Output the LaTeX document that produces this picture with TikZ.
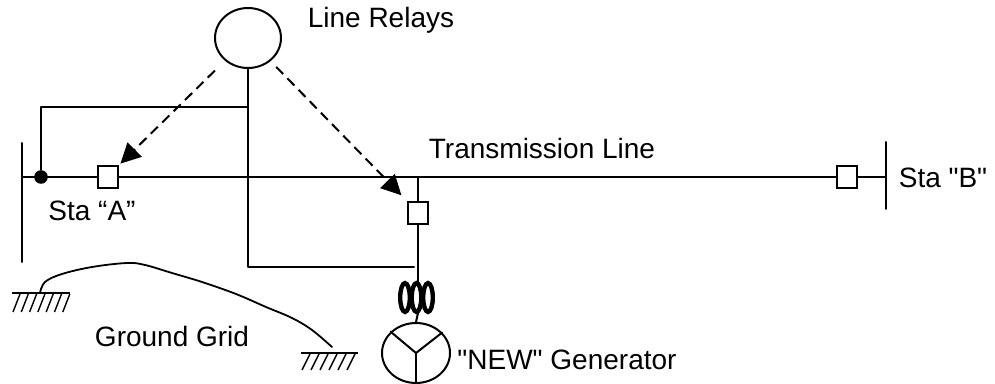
\documentclass[tikz,border=0pt]{standalone}
\usepackage{fontspec}
\setmainfont{Liberation Sans}
\usetikzlibrary{arrows.meta,shapes.geometric}
\tikzset{
  base/.style={draw=black, line width=1pt, line cap=round, line join=round},
  trip/.style={draw=black, line width=1pt, dash pattern=on 5pt off 3pt, -{Triangle[length=10pt,width=10pt]}},
  brk/.style={draw=black, line width=1pt, fill=white, rectangle, minimum width=10pt, minimum height=11pt, inner sep=0pt},
  oval/.style={draw=black, line width=1pt, ellipse, minimum width=33pt, minimum height=30pt, inner sep=0pt},
  coil/.style={draw=black, line width=2.2pt},
  hatch/.style={draw=black, line width=0.7pt},
  dot/.style={circle, fill=black, inner sep=2.4pt},
  lab/.style={text=black, font=\fontsize{14}{16}\selectfont, inner sep=0pt},
}

\begin{document}
\begin{tikzpicture}[x=0.5pt,y=-0.5pt]
  \useasboundingbox (0,0) rectangle (995,384);
  % stations and buses
  \coordinate (aTop) at (22,143);
  \coordinate (aBot) at (22,262);
  \coordinate (aBus) at (22,177);
  \coordinate (bTop) at (886,142);
  \coordinate (bBot) at (886,209);
  \coordinate (bBus) at (886,177);
  \coordinate (tap) at (418,177);
  \draw[base] (aTop) -- (aBot);
  \draw[base] (bTop) -- (bBot);
  \node[brk] (brkA) at (108,177) {};
  \node[brk] (brkB) at (847,177) {};
  \node[brk] (brkG) at (418,213) {};
  \node[dot] (jA) at (41,177) {};
  \draw[base] (aBus) -- (brkA.west);
  \draw[base] (brkA.east) -- (brkB.west);
  \draw[base] (brkB.east) -- (bBus);
  % generator tap
  \coordinate (coilTop) at (418,282);
  \coordinate (coilBot) at (418,313);
  \draw[base] (tap) -- (brkG.north);
  \draw[base] (brkG.south) -- (coilTop);
  \foreach \cx in {405,416.5,428}
    \draw[coil] (\cx,297.5) ellipse [x radius=2.4pt, y radius=7.2pt];
  \node[oval, minimum width=34pt] (gen) at (416,353) {};
  \draw[base] (coilBot) -- (gen.north);
  \draw[base] (gen.center) -- (gen.140);
  \draw[base] (gen.center) -- (gen.38);
  \draw[base] (gen.center) -- (gen.south);
  % relays
  \node[oval] (relay) at (248,38) {};
  \coordinate (ctTop) at (248,107);
  \coordinate (ctEnd) at (414,267);
  \draw[base] (jA) |- (ctTop);
  \draw[base] (relay.south) |- (ctEnd);
  \draw[trip, shorten <=7pt, shorten >=1pt] (relay) -- (brkA.north east);
  \draw[trip, shorten <=4pt, shorten >=4pt] (relay) -- (brkG.north west);
  % ground grid
  \draw[base, line width=0.9pt] plot[smooth, tension=0.6] coordinates
    {(40,293) (45,282) (62,274) (92,267) (127,263) (145,265) (172,273) (202,282) (236,294) (266,307) (292,318) (312,330) (332,347)};
  \draw[hatch] (12,293) -- (70,293);
  \foreach \k in {0,...,6}
    \draw[hatch] (13+8.3*\k,312) -- (20+8.3*\k,294);
  \draw[hatch] (301,353) -- (358,353);
  \foreach \k in {0,...,5}
    \draw[hatch] (302+9*\k,370) -- (310+9*\k,354);
  % labels
  \node[lab] (lblRelay) at (381,20) {Line Relays};
  \node[lab] (lblLine) at (542,148) {Transmission Line};
  \node[lab] (lblA) at (92,211) {Sta “A”};
  \node[lab] (lblB) at (943,178) {Sta \textquotedbl B\textquotedbl};
  \node[lab] (lblGrid) at (172,336) {Ground Grid};
  \node[lab] (lblGen) at (567,360) {\textquotedbl NEW\textquotedbl\ Generator};
\end{tikzpicture}
\end{document}
